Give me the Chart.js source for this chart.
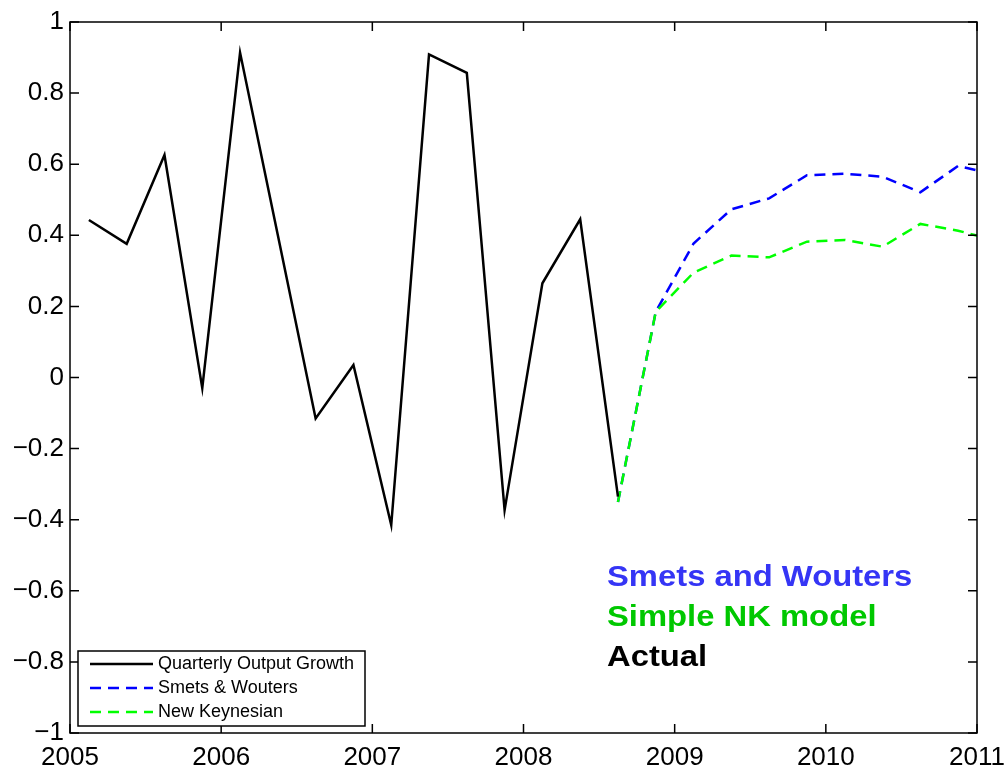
<!DOCTYPE html>
<html>
<head>
<meta charset="utf-8">
<script src="https://cdn.jsdelivr.net/npm/chart.js@4"></script>
<style>
  html, body { margin: 0; padding: 0; background: #fff; }
</style>
</head>
<body>
<canvas id="growthChart" width="1007" height="771"></canvas>
<script>
// 実績（四半期）
const actualDates = [2005.125, 2005.375, 2005.625, 2005.875, 2006.125, 2006.375, 2006.625, 2006.875,
                     2007.125, 2007.375, 2007.625, 2007.875, 2008.125, 2008.375, 2008.625];
const actualGrowth = [0.443, 0.376, 0.626, -0.03, 0.914, 0.40, -0.115, 0.035,
                      -0.415, 0.909, 0.857, -0.373, 0.265, 0.445, -0.335];

// 予測
const forecastDates = [2008.625, 2008.875, 2009.125, 2009.375, 2009.625, 2009.875,
                       2010.125, 2010.375, 2010.625, 2010.875, 2011.125];
const smetsWouters = [-0.35, 0.185, 0.377, 0.473, 0.504, 0.569, 0.573, 0.565, 0.521, 0.595, 0.57];
const newKeynesian = [-0.35, 0.185, 0.295, 0.343, 0.338, 0.382, 0.387, 0.368, 0.432, 0.413, 0.385];

const legendLabels = ['Quarterly Output Growth', 'Smets & Wouters', 'New Keynesian'];
const noteLabels = ['Smets and Wouters', 'Simple NK model', 'Actual'];

function toPoints(xs, ys) {
  return xs.map((x, i) => ({ x: x, y: ys[i] }));
}

// 枠と内向きの目盛り
const framePlugin = {
  id: 'frame',
  afterDatasetsDraw(chart) {
    const ctx = chart.ctx;
    const a = chart.chartArea;
    const xs = chart.scales.x, ys = chart.scales.y;
    ctx.save();
    ctx.strokeStyle = '#000';
    ctx.lineWidth = 1.5;
    ctx.strokeRect(a.left, a.top, a.right - a.left, a.bottom - a.top);
    ctx.beginPath();
    xs.ticks.forEach(t => {
      const px = xs.getPixelForValue(t.value);
      ctx.moveTo(px, a.bottom); ctx.lineTo(px, a.bottom - 9);
      ctx.moveTo(px, a.top); ctx.lineTo(px, a.top + 9);
    });
    ys.ticks.forEach(t => {
      const py = ys.getPixelForValue(t.value);
      ctx.moveTo(a.left, py); ctx.lineTo(a.left + 9, py);
      ctx.moveTo(a.right, py); ctx.lineTo(a.right - 9, py);
    });
    ctx.stroke();
    ctx.restore();
  }
};

// 凡例（左下）と注記
const legendPlugin = {
  id: 'boxLegend',
  afterDraw(chart) {
    const ctx = chart.ctx;
    const a = chart.chartArea;
    const styles = [
      { color: '#000', dash: [] },
      { color: '#0000ff', dash: [11, 7] },
      { color: '#00ff00', dash: [11, 7] }
    ];
    const bx = a.left + 8, by = a.bottom - 82, bw = 287, bh = 75;
    ctx.save();
    ctx.fillStyle = '#fff';
    ctx.fillRect(bx, by, bw, bh);
    ctx.strokeStyle = '#000';
    ctx.lineWidth = 1.5;
    ctx.strokeRect(bx, by, bw, bh);
    ctx.font = '18px "Liberation Sans", Arial, sans-serif';
    ctx.textBaseline = 'middle';
    legendLabels.forEach((label, i) => {
      const ly = by + 13 + i * 24;
      ctx.strokeStyle = styles[i].color;
      ctx.lineWidth = 2.5;
      ctx.setLineDash(styles[i].dash);
      ctx.beginPath();
      ctx.moveTo(bx + 12, ly);
      ctx.lineTo(bx + 75, ly);
      ctx.stroke();
      ctx.setLineDash([]);
      ctx.fillStyle = '#000';
      ctx.fillText(label, bx + 80, ly);
    });

    // 注記テキスト（横に少し伸ばす）
    const noteColors = ['#3535f5', '#00c800', '#000'];
    ctx.font = 'bold 29px "Liberation Sans", Arial, sans-serif';
    ctx.textBaseline = 'middle';
    noteLabels.forEach((t, i) => {
      ctx.save();
      ctx.translate(607, 578 + i * 40);
      ctx.scale(1.13, 1);
      ctx.fillStyle = noteColors[i];
      ctx.fillText(t, 0, 0);
      ctx.restore();
    });
    ctx.restore();
  }
};

const ctx = document.getElementById('growthChart').getContext('2d');
new Chart(ctx, {
  type: 'line',
  data: {
    datasets: [
      {
        label: legendLabels[0],
        data: toPoints(actualDates, actualGrowth),
        borderColor: '#000',
        borderWidth: 2.5,
        pointRadius: 0,
        tension: 0
      },
      {
        label: legendLabels[2],
        data: toPoints(forecastDates, newKeynesian),
        borderColor: '#00ff00',
        borderWidth: 2.5,
        borderDash: [11, 7],
        pointRadius: 0,
        tension: 0
      },
      {
        label: legendLabels[1],
        data: toPoints(forecastDates, smetsWouters),
        borderColor: '#0000ff',
        borderWidth: 2.5,
        borderDash: [11, 7],
        pointRadius: 0,
        tension: 0
      }
    ]
  },
  options: {
    responsive: false,
    devicePixelRatio: 1,
    animation: false,
    layout: { padding: { top: 22, right: 30, left: 0, bottom: 0 } },
    plugins: {
      legend: { display: false },
      tooltip: { enabled: false }
    },
    scales: {
      x: {
        type: 'linear',
        min: 2005,
        max: 2011,
        grid: { display: false, drawTicks: false },
        border: { display: false },
        ticks: {
          stepSize: 1,
          padding: 9,
          color: '#000',
          font: { size: 26, family: '"Liberation Sans", Arial, sans-serif' },
          callback: v => String(v)
        },
        afterFit: s => { s.height = 38; s.paddingLeft = 0; s.paddingRight = 0; }
      },
      y: {
        min: -1,
        max: 1,
        grid: { display: false, drawTicks: false },
        border: { display: false },
        ticks: {
          stepSize: 0.2,
          padding: 6,
          color: '#000',
          font: { size: 26, family: '"Liberation Sans", Arial, sans-serif' },
          callback: v => {
            const r = Math.round(v * 10) / 10;
            return r < 0 ? '\u2212' + Math.abs(r) : String(r);
          }
        },
        afterFit: s => { s.width = 70; s.paddingTop = 0; s.paddingBottom = 0; }
      }
    }
  },
  plugins: [framePlugin, legendPlugin]
});
</script>
</body>
</html>
